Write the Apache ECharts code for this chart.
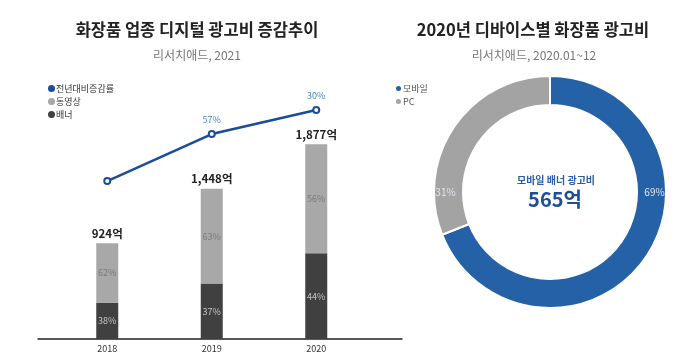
<!DOCTYPE html>
<html><head><meta charset="utf-8">
<script src="https://cdn.jsdelivr.net/npm/echarts@6/dist/echarts.min.js"></script>
<style>html,body{margin:0;padding:0;background:#fff}#c{width:700px;height:362px}</style>
</head><body><div id="c"></div>
<script>
const years = ['2018', '2019', '2020'];
const totals = [924, 1448, 1877];
const bannerShare = [38, 37, 44];
const videoShare = [62, 63, 56];
const bannerValues = [351, 536, 826];
const videoValues = [573, 912, 1051];
const growthLabels = ['', '57%', '30%'];
const growthLevel = [56.4, 73.2, 81.8];
const deviceNames = ['모바일', 'PC'];
const deviceShare = [69, 31];
const mobileBannerAmount = '565억';

const F = '"Noto Sans CJK KR", "Noto Sans", sans-serif';
const chart = echarts.init(document.getElementById('c'));
chart.setOption({
  animation: false,
  textStyle: { fontFamily: F },
  title: [
    { text: '화장품 업종 디지털 광고비 증감추이', left: 192, top: 16, textAlign: 'center',
      textStyle: { fontFamily: F, fontSize: 16.5, fontWeight: 'bold', color: '#222' } },
    { text: '리서치애드, 2021', left: 192, top: 44, textAlign: 'center',
      textStyle: { fontFamily: F, fontSize: 12, fontWeight: 'normal', color: '#777' } },
    { text: '2020년 디바이스별 화장품 광고비', left: 528, top: 16, textAlign: 'center',
      textStyle: { fontFamily: F, fontSize: 16.5, fontWeight: 'bold', color: '#222' } },
    { text: '리서치애드, 2020.01~12', left: 529, top: 44, textAlign: 'center',
      textStyle: { fontFamily: F, fontSize: 12, fontWeight: 'normal', color: '#777' } },
    { text: '모바일 배너 광고비', left: 551, top: 170, textAlign: 'center',
      textStyle: { fontFamily: F, fontSize: 10, fontWeight: 'bold', color: '#2a5ea8' } },
    { text: mobileBannerAmount, left: 550, top: 184, textAlign: 'center',
      textStyle: { fontFamily: F, fontSize: 20, fontWeight: 'bold', color: '#1d4f98' } }
  ],
  legend: [
    { orient: 'vertical', left: 43, top: 79, itemWidth: 7, itemHeight: 7, itemGap: 4, icon: 'circle',
      data: ['전년대비증감률', '동영상', '배너'],
      textStyle: { fontFamily: F, fontSize: 9, color: '#333', padding: [0, 0, 0, -4] } },
    { orient: 'vertical', left: 389, top: 79, itemWidth: 7, itemHeight: 7, itemGap: 4, icon: 'circle',
      data: deviceNames,
      textStyle: { fontFamily: F, fontSize: 9, color: '#555', padding: [0, 0, 0, -4] } }
  ],
  grid: [
    { left: 55, width: 313.5, top: 59, bottom: 23 },
    { left: 38, width: 364, top: 59, bottom: 23 }
  ],
  xAxis: [
    { type: 'category', gridIndex: 0, data: years, axisLine: { show: false }, axisTick: { show: false },
      axisLabel: { fontFamily: F, fontSize: 9, color: '#333', margin: 5 } },
    { type: 'category', gridIndex: 1, data: years, axisLine: { show: true, lineStyle: { color: '#222', width: 1.5 } },
      axisTick: { show: false }, axisLabel: { show: false } }
  ],
  yAxis: [
    { type: 'value', gridIndex: 0, min: 0, max: 2700, show: false, splitLine: { show: false } },
    { type: 'value', gridIndex: 0, min: 0, max: 100, show: false, splitLine: { show: false } },
    { type: 'value', gridIndex: 1, min: 0, max: 100, show: false, splitLine: { show: false } }
  ],
  series: [
    { name: '배너', type: 'bar', stack: 'ad', xAxisIndex: 0, yAxisIndex: 0, barWidth: 22,
      data: bannerValues, itemStyle: { color: '#404040' },
      label: { show: true, position: 'inside', fontFamily: F, fontSize: 9, color: '#c4c4c4',
        formatter: p => bannerShare[p.dataIndex] + '%' } },
    { name: '동영상', type: 'bar', stack: 'ad', xAxisIndex: 0, yAxisIndex: 0, barWidth: 22,
      data: videoValues, itemStyle: { color: '#a8a8a8' },
      label: { show: true, position: 'inside', fontFamily: F, fontSize: 9, color: '#7a7a7a',
        formatter: p => videoShare[p.dataIndex] + '%' } },
    { name: '동영상', type: 'bar', stack: 'ad', xAxisIndex: 0, yAxisIndex: 0, barWidth: 22,
      data: [0, 0, 0], itemStyle: { color: 'transparent' }, legendHoverLink: false,
      label: { show: true, position: 'top', distance: 4, fontFamily: F, fontSize: 11.5, fontWeight: 'bold', color: '#222',
        formatter: p => totals[p.dataIndex].toLocaleString('en-US') + '억' } },
    { name: '전년대비증감률', type: 'line', xAxisIndex: 0, yAxisIndex: 1, data: growthLevel,
      symbol: 'emptyCircle', symbolSize: 6, clip: false,
      lineStyle: { color: '#1b4c9c', width: 2.5 },
      itemStyle: { color: '#1b4c9c', borderWidth: 1.5 },
      label: { show: true, position: 'top', distance: 6, fontFamily: F, fontSize: 9, color: '#4a86c8',
        formatter: p => growthLabels[p.dataIndex] } },
    { name: '디바이스', type: 'pie', center: [550, 192], radius: [87, 116], startAngle: 90, clockwise: true,
      data: deviceNames.map((n, i) => ({ name: n, value: deviceShare[i] })),
      color: ['#2461a6', '#a3a3a3'],
      itemStyle: { borderColor: '#fff', borderWidth: 2 },
      label: { show: false }, labelLine: { show: false }, emphasis: { disabled: true } },
    { name: 'labels', type: 'pie', center: [550, 192], radius: [87, 116], startAngle: 90, clockwise: true,
      silent: true, legendHoverLink: false,
      data: deviceShare.map((v, i) => ({ name: 'lbl' + i, value: 1 })),
      itemStyle: { color: 'transparent' },
      label: { show: true, position: 'inside', fontFamily: F, fontSize: 10,
        color: '#dfe6f0', formatter: p => deviceShare[p.dataIndex] + '%' },
      labelLine: { show: false }, emphasis: { disabled: true } }
  ]
});
</script></body></html>
